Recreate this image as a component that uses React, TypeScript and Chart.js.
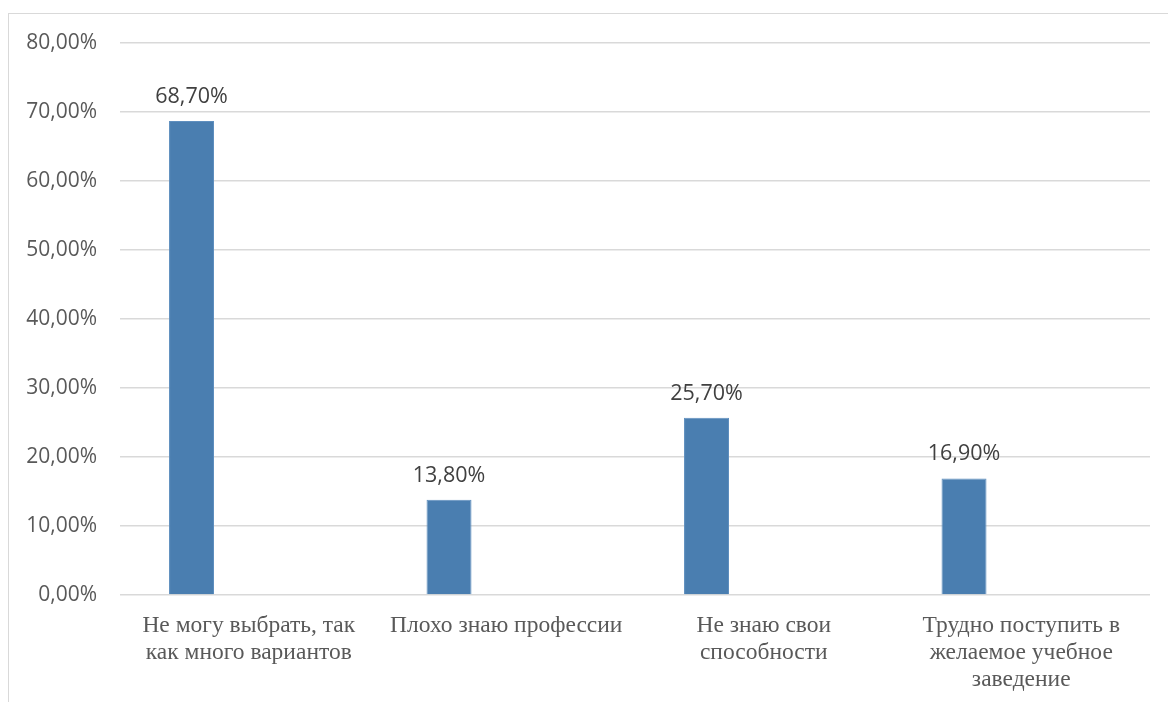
import React, { useEffect, useRef } from "react";
import { Chart, registerables } from "chart.js";

Chart.register(...registerables);

const categories: string[][] = [
  ["Не могу выбрать, так", "как много вариантов"],
  ["Плохо знаю профессии"],
  ["Не знаю свои", "способности"],
  ["Трудно поступить в", "желаемое учебное", "заведение"],
];
const values: number[] = [68.7, 13.8, 25.7, 16.9];
const emptySeries: (number | null)[] = [null, null, null, null];
const yMin = 0;
const yMax = 80;
const yStep = 10;

const fmt = (v: number) => v.toFixed(2).replace(".", ",") + "%";

const dataLabels = {
  id: "dataLabels",
  afterDatasetsDraw(chart: any) {
    const ctx = chart.ctx;
    const meta = chart.getDatasetMeta(0);
    ctx.save();
    ctx.font = '21.5px "Open Sans"';
    ctx.fillStyle = "#404040";
    ctx.textAlign = "center";
    ctx.textBaseline = "alphabetic";
    meta.data.forEach((bar: any, i: number) => {
      ctx.fillText(fmt(values[i]), bar.x, bar.y - 18);
    });
    ctx.restore();
  },
};

export default function App() {
  const ref = useRef<HTMLCanvasElement | null>(null);
  useEffect(() => {
    if (!ref.current) return;
    const chart = new Chart(ref.current, {
      type: "bar",
      data: {
        labels: categories,
        datasets: [
          {
            data: values,
            backgroundColor: "#4a7eb0",
            borderColor: "#5f8fbf",
            borderWidth: 1,
            categoryPercentage: 0.889,
            barPercentage: 0.393,
          },
          {
            data: emptySeries,
            backgroundColor: "#c0504d",
            categoryPercentage: 0.889,
            barPercentage: 0.393,
          },
        ],
      },
      options: {
        animation: false,
        responsive: false,
        maintainAspectRatio: false,
        layout: { padding: { top: 29, right: 18, left: 0, bottom: 0 } },
        plugins: {
          legend: { display: false },
          tooltip: { enabled: false },
        },
        scales: {
          x: {
            grid: { display: false, drawTicks: false },
            border: { display: false },
            ticks: {
              autoSkip: false,
              maxRotation: 0,
              minRotation: 0,
              padding: 17,
              color: "#595959",
              font: { family: '"Liberation Serif", "Times New Roman", serif', size: 23.5, lineHeight: 1.15 },
            },
            afterFit: (scale: any) => {
              scale.height = 689 - 581;
              scale.paddingLeft = 0;
              scale.paddingRight = 0;
            },
          },
          y: {
            min: yMin,
            max: yMax,
            grid: { color: "#d9d9d9", lineWidth: 1.5, drawTicks: false },
            border: { display: false },
            ticks: {
              stepSize: yStep,
              padding: 23,
              color: "#595959",
              font: { family: '"Open Sans", sans-serif', size: 21 },
              callback: (v: any) => fmt(Number(v)),
            },
            afterFit: (scale: any) => {
              scale.width = 111;
              scale.paddingTop = 0;
              scale.paddingBottom = 0;
            },
          },
        },
      },
      plugins: [dataLabels],
    });
    return () => chart.destroy();
  }, []);

  return (
    <div
      style={{
        position: "fixed",
        left: 8,
        top: 13,
        width: 1200,
        height: 760,
        border: "1px solid #d9d9d9",
        background: "#fff",
      }}
    >
      <canvas ref={ref} width={1159} height={689} style={{ display: "block", width: 1159, height: 689 }} />
    </div>
  );
}
